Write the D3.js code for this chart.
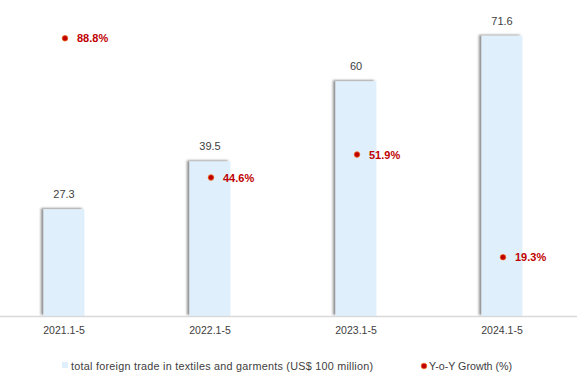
<!DOCTYPE html>
<html>
<head>
<meta charset="utf-8">
<script src="https://cdn.jsdelivr.net/npm/d3@7"></script>
<style>
  body { margin: 0; background: #fff; }
  text { font-family: "Liberation Sans", Arial, sans-serif; }
</style>
</head>
<body>
<svg id="chart" width="577" height="386"></svg>
<script>
// chart values
var periods = ["2021.1-5", "2022.1-5", "2023.1-5", "2024.1-5"];
var tradeValues = [27.3, 39.5, 60, 71.6];
var growthValues = [88.8, 44.6, 51.9, 19.3];
var legendLabels = ["total foreign trade in textiles and garments (US$ 100 million)", "Y-o-Y Growth (%)"];

var svg = d3.select("#chart");
var baseline = 316;

var x = d3.scaleBand()
  .domain(periods)
  .range([-9, 575])
  .paddingInner(0.72)
  .paddingOuter(0.36);

var y = d3.scaleLinear().domain([0, 80]).range([baseline, 3]);
var y2 = d3.scaleLinear().domain([0, 100]).range([318, 3]);

// soft shadow on the left/top of bars
var defs = svg.append("defs");
var f = defs.append("filter").attr("id", "shadow")
  .attr("x", "-30%").attr("y", "-10%").attr("width", "160%").attr("height", "120%");
f.append("feDropShadow")
  .attr("dx", -2.5).attr("dy", -1)
  .attr("stdDeviation", 1.2)
  .attr("flood-color", "#000")
  .attr("flood-opacity", 0.45);

var data = periods.map(function(p, i) {
  return { period: p, trade: tradeValues[i], growth: growthValues[i] };
});

// bars
svg.selectAll("rect.bar")
  .data(data)
  .enter()
  .append("rect")
  .attr("class", "bar")
  .attr("x", function(d) { return x(d.period); })
  .attr("y", function(d) { return y(d.trade); })
  .attr("width", x.bandwidth())
  .attr("height", function(d) { return baseline - y(d.trade); })
  .attr("fill", "#dff0fc")
  .attr("filter", "url(#shadow)");

// bar value labels
svg.selectAll("text.val")
  .data(data)
  .enter()
  .append("text")
  .attr("class", "val")
  .attr("x", function(d) { return x(d.period) + x.bandwidth() / 2; })
  .attr("y", function(d) { return y(d.trade) - 11; })
  .attr("text-anchor", "middle")
  .attr("font-size", 11)
  .attr("fill", "#404040")
  .text(function(d) { return d.trade; });

// x axis line
var axis = svg.append("g")
  .attr("transform", "translate(0," + baseline + ")")
  .call(d3.axisBottom(x).tickSize(0).tickPadding(11));
axis.select(".domain").attr("d", "M0,0.5H577").attr("stroke", "#d9d9d9").attr("stroke-width", 1.5);
axis.selectAll(".tick text")
  .attr("font-size", 10.5)
  .attr("fill", "#404040")
  .style("font-family", "Liberation Sans, Arial, sans-serif");

// growth points
svg.selectAll("circle.pt")
  .data(data)
  .enter()
  .append("circle")
  .attr("class", "pt")
  .attr("cx", function(d) { return x(d.period) + x.bandwidth() / 2 + 1; })
  .attr("cy", function(d) { return y2(d.growth); })
  .attr("r", 2.8)
  .attr("fill", "#c00000")
  .attr("stroke", "#ee6a1c")
  .attr("stroke-width", 0.8);

svg.selectAll("text.gr")
  .data(data)
  .enter()
  .append("text")
  .attr("class", "gr")
  .attr("x", function(d) { return x(d.period) + x.bandwidth() / 2 + 13; })
  .attr("y", function(d) { return y2(d.growth) + 4; })
  .attr("font-size", 11)
  .attr("font-weight", "bold")
  .attr("fill", "#c00000")
  .text(function(d) { return d.growth.toFixed(1) + "%"; });

// legend
var lg = svg.append("g");
lg.append("rect").attr("x", 62).attr("y", 362).attr("width", 6).attr("height", 6).attr("fill", "#dff0fc");
lg.append("text").attr("x", 71).attr("y", 369.5)
  .attr("font-size", 10.8).attr("letter-spacing", 0.25)
  .attr("fill", "#404040").text(legendLabels[0]);
lg.append("circle").attr("cx", 424).attr("cy", 366).attr("r", 2.8)
  .attr("fill", "#c00000").attr("stroke", "#ee6a1c").attr("stroke-width", 0.8);
lg.append("text").attr("x", 429).attr("y", 369.5)
  .attr("font-size", 10.7).attr("fill", "#404040").text(legendLabels[1]);
</script>
</body>
</html>
